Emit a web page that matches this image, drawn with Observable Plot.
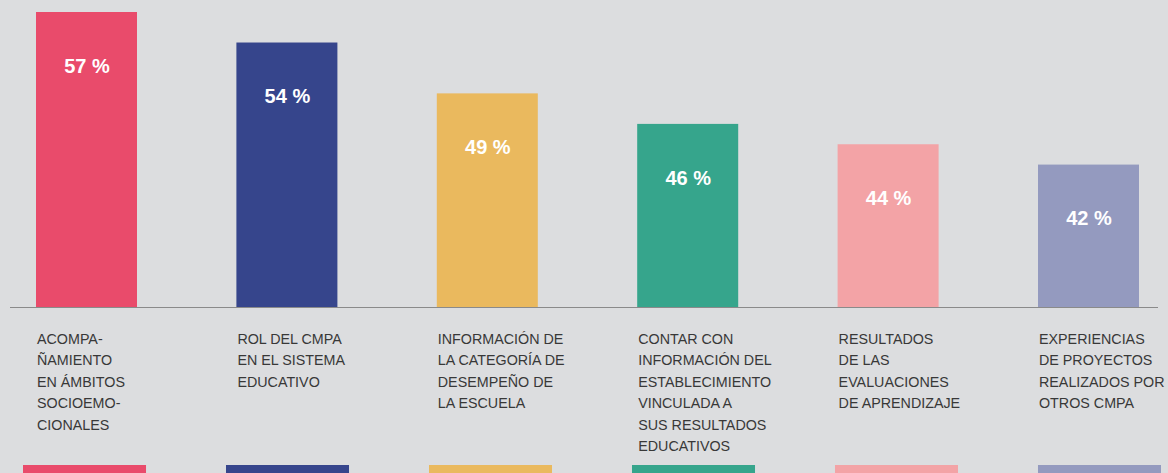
<!DOCTYPE html>
<html>
<head>
<meta charset="utf-8">
<script src="https://cdn.jsdelivr.net/npm/d3@7"></script>
<script src="https://cdn.jsdelivr.net/npm/@observablehq/plot@0.6"></script>
<style>
  html, body { margin: 0; padding: 0; background: #dcdddf; }
  #chart svg { display: block; }
</style>
</head>
<body>
<div id="chart"></div>
<script>
const categories = ["ACOMP", "ROL", "INFO_CAT", "INFO_EST", "RESULT", "EXPER"];
const values = [57, 54, 49, 46, 44, 42];
const labels = [
  "ACOMPA-\nÑAMIENTO\nEN ÁMBITOS\nSOCIOEMO-\nCIONALES",
  "ROL DEL CMPA\nEN EL SISTEMA\nEDUCATIVO",
  "INFORMACIÓN DE\nLA CATEGORÍA DE\nDESEMPEÑO DE\nLA ESCUELA",
  "CONTAR CON\nINFORMACIÓN DEL\nESTABLECIMIENTO\nVINCULADA A\nSUS RESULTADOS\nEDUCATIVOS",
  "RESULTADOS\nDE LAS\nEVALUACIONES\nDE APRENDIZAJE",
  "EXPERIENCIAS\nDE PROYECTOS\nREALIZADOS POR\nOTROS CMPA"
];
const colors = ["#e94b6b", "#36458c", "#eab95e", "#36a58c", "#f3a3a6", "#949abf"];

const data = categories.map((c, i) => ({cat: c, value: values[i], label: labels[i], color: colors[i]}));
const labelOf = new Map(data.map(d => [d.cat, d.label]));

const main = Plot.plot({
  width: 1168,
  height: 465,
  marginTop: 12,
  marginBottom: 158,
  marginLeft: 10,
  marginRight: 10,
  style: {background: "transparent", overflow: "visible"},
  x: {type: "band", domain: categories, range: [36, 1139], paddingInner: 0.496, paddingOuter: 0, round: false, axis: null},
  y: {domain: [28, 57], clamp: true, axis: null},
  marks: [
    Plot.barY(data, {x: "cat", y: "value", fill: "color"}),
    Plot.ruleY([28], {stroke: "#8a8a8a", strokeWidth: 1.2}),
    Plot.text(data, {x: "cat", y: "value", text: d => d.value + " %", dy: 54, fill: "white",
      fontSize: 20, fontWeight: "bold", fontFamily: "Liberation Sans, Arial, sans-serif"}),
    Plot.axisX({
      label: null,
      tickSize: 0, tickPadding: 21, tickFormat: d => labelOf.get(d),
      textAnchor: "start", lineAnchor: "top", dx: -50, lineHeight: 1.5,
      fontSize: 14.3, fill: "#383838", fontFamily: "Liberation Sans, Arial, sans-serif"
    })
  ]
});

const strip = Plot.plot({
  width: 1168,
  height: 8,
  margin: 0,
  style: {background: "transparent"},
  x: {type: "band", domain: categories, range: [23, 1161], paddingInner: 0.394, paddingOuter: 0, round: false, axis: null},
  marks: [
    Plot.cell(data, {x: "cat", fill: "color", inset: 0})
  ]
});

document.getElementById("chart").append(main, strip);
</script>
</body>
</html>
